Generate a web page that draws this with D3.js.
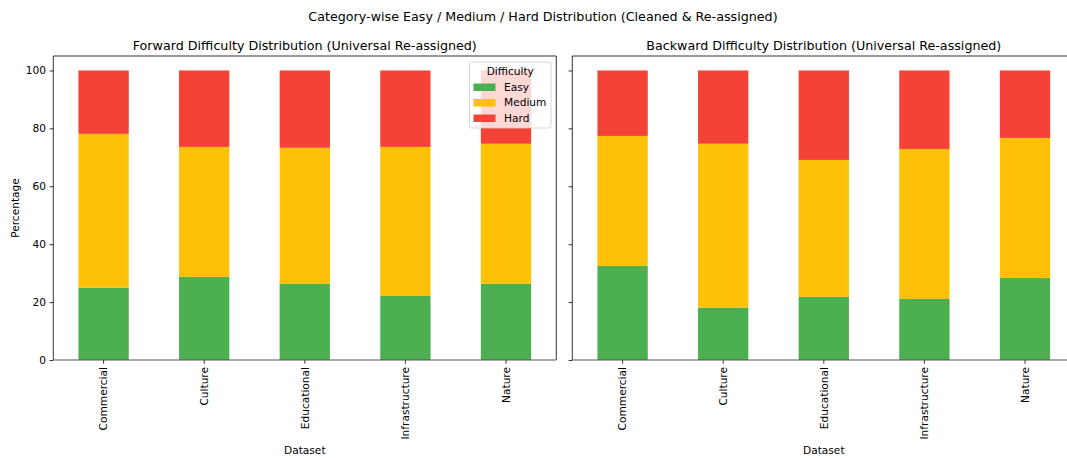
<!DOCTYPE html>
<html>
<head>
<meta charset="utf-8">
<script src="https://cdn.jsdelivr.net/npm/d3@7"></script>
<style>
  html, body { margin: 0; padding: 0; background: #fff; }
  svg { display: block; font-family: "DejaVu Sans", sans-serif; }
</style>
</head>
<body>
<svg id="chart" width="1067" height="458"></svg>
<script>
// Categories and stacked percentages per difficulty level
const categories = ["Commercial", "Culture", "Educational", "Infrastructure", "Nature"];
const levels = ["Easy", "Medium", "Hard"];
const levelColors = ["#4CAF50", "#FFC107", "#F44336"];
const yTicks = [0, 20, 40, 60, 80, 100];

const forwardEasy   = [25.0, 28.7, 26.3, 22.1, 26.3];
const forwardMedium = [53.1, 44.9, 47.0, 51.5, 48.4];
const forwardHard   = [21.9, 26.4, 26.7, 26.4, 25.3];

const backwardEasy   = [32.5, 18.1, 21.8, 21.1, 28.3];
const backwardMedium = [44.9, 56.6, 47.3, 51.8, 48.4];
const backwardHard   = [22.6, 25.3, 30.9, 27.1, 23.3];

const suptitle = "Category-wise Easy / Medium / Hard Distribution (Cleaned & Re-assigned)";
const panels = [
  { title: "Forward Difficulty Distribution (Universal Re-assigned)", series: [forwardEasy, forwardMedium, forwardHard], left: 53.3, showYLabels: true, legend: true },
  { title: "Backward Difficulty Distribution (Universal Re-assigned)", series: [backwardEasy, backwardMedium, backwardHard], left: 572.3, showYLabels: false, legend: false }
];

const svg = d3.select("#chart");
const plotTop = 56, plotBottom = 360, panelW = 503;
const tickFont = 10.6, titleFont = 12.7;

svg.append("text")
  .attr("x", 543).attr("y", 21)
  .attr("text-anchor", "middle")
  .attr("font-size", titleFont).attr("fill", "#000")
  .text(suptitle);

const y = d3.scaleLinear().domain([0, 105]).range([plotBottom, plotTop]);

panels.forEach(p => {
  const g = svg.append("g");
  const x = d3.scaleBand().domain(categories).range([p.left, p.left + panelW]).paddingInner(0.5).paddingOuter(0.25);

  // Stack rows: one object per category
  const rows = categories.map((c, i) => {
    const r = { category: c };
    levels.forEach((l, k) => r[l] = p.series[k][i]);
    return r;
  });
  const stacked = d3.stack().keys(levels)(rows);

  stacked.forEach((layer, k) => {
    g.selectAll(null).data(layer).enter().append("rect")
      .attr("x", d => x(d.data.category))
      .attr("width", x.bandwidth())
      .attr("y", d => y(d[1]))
      .attr("height", d => y(d[0]) - y(d[1]))
      .attr("fill", levelColors[k]);
  });

  // Y axis
  const yAxis = d3.axisLeft(y).tickValues(yTicks).tickSize(3.7).tickPadding(3.7)
    .tickFormat(p.showYLabels ? d3.format("d") : () => "");
  const ya = g.append("g").attr("transform", `translate(${p.left},0)`).call(yAxis);
  ya.select(".domain").remove();
  ya.selectAll("line").attr("stroke", "#000").attr("stroke-width", 0.8);
  ya.selectAll("text").attr("font-size", tickFont).attr("fill", "#000").attr("font-family", "DejaVu Sans");

  // X axis with rotated labels
  const xAxis = d3.axisBottom(x).tickSize(3.7).tickPadding(3.7);
  const xa = g.append("g").attr("transform", `translate(0,${plotBottom})`).call(xAxis);
  xa.select(".domain").remove();
  xa.selectAll("line").attr("stroke", "#000").attr("stroke-width", 0.8);
  xa.selectAll("text")
    .attr("font-size", tickFont).attr("fill", "#000").attr("font-family", "DejaVu Sans")
    .attr("text-anchor", "end")
    .attr("dy", "0.35em")
    .attr("transform", "translate(0,4) rotate(-90)")
    .attr("x", -3).attr("y", 0);

  // Spines
  const right = p.left + panelW;
  g.append("line").attr("x1", p.left).attr("x2", p.left).attr("y1", plotTop).attr("y2", plotBottom).attr("stroke", "#000").attr("stroke-width", 0.8);
  g.append("line").attr("x1", right).attr("x2", right).attr("y1", plotTop).attr("y2", plotBottom).attr("stroke", "#000").attr("stroke-width", 0.8);
  g.append("line").attr("x1", p.left).attr("x2", right).attr("y1", plotTop).attr("y2", plotTop).attr("stroke", "#000").attr("stroke-width", 0.8);
  g.append("line").attr("x1", p.left).attr("x2", right).attr("y1", plotBottom).attr("y2", plotBottom).attr("stroke", "#555").attr("stroke-width", 1.2);

  // Panel title
  g.append("text")
    .attr("x", p.left + panelW / 2).attr("y", 50)
    .attr("text-anchor", "middle").attr("font-size", titleFont).attr("fill", "#000")
    .text(p.title);

  // X label
  g.append("text")
    .attr("x", p.left + panelW / 2).attr("y", 454)
    .attr("text-anchor", "middle").attr("font-size", tickFont).attr("fill", "#000")
    .text("Dataset");

  if (p.showYLabels) {
    g.append("text")
      .attr("transform", `translate(19,${(plotTop + plotBottom) / 2}) rotate(-90)`)
      .attr("text-anchor", "middle").attr("font-size", tickFont).attr("fill", "#000")
      .text("Percentage");
  }

  if (p.legend) {
    const lg = g.append("g").attr("transform", "translate(469.5,62)");
    lg.append("rect").attr("width", 81.5).attr("height", 66).attr("rx", 2)
      .attr("fill", "#fff").attr("fill-opacity", 0.8)
      .attr("stroke", "#ccc").attr("stroke-width", 0.8);
    lg.append("text").attr("x", 40.75).attr("y", 13).attr("text-anchor", "middle")
      .attr("font-size", tickFont).attr("fill", "#000").text("Difficulty");
    levels.forEach((l, k) => {
      const ey = 25 + k * 15.5;
      lg.append("rect").attr("x", 4).attr("y", ey - 3.5).attr("width", 22).attr("height", 7.5).attr("fill", levelColors[k]);
      lg.append("text").attr("x", 34.5).attr("y", ey + 3.8).attr("font-size", tickFont).attr("fill", "#000").text(l);
    });
  }
});
</script>
</body>
</html>
